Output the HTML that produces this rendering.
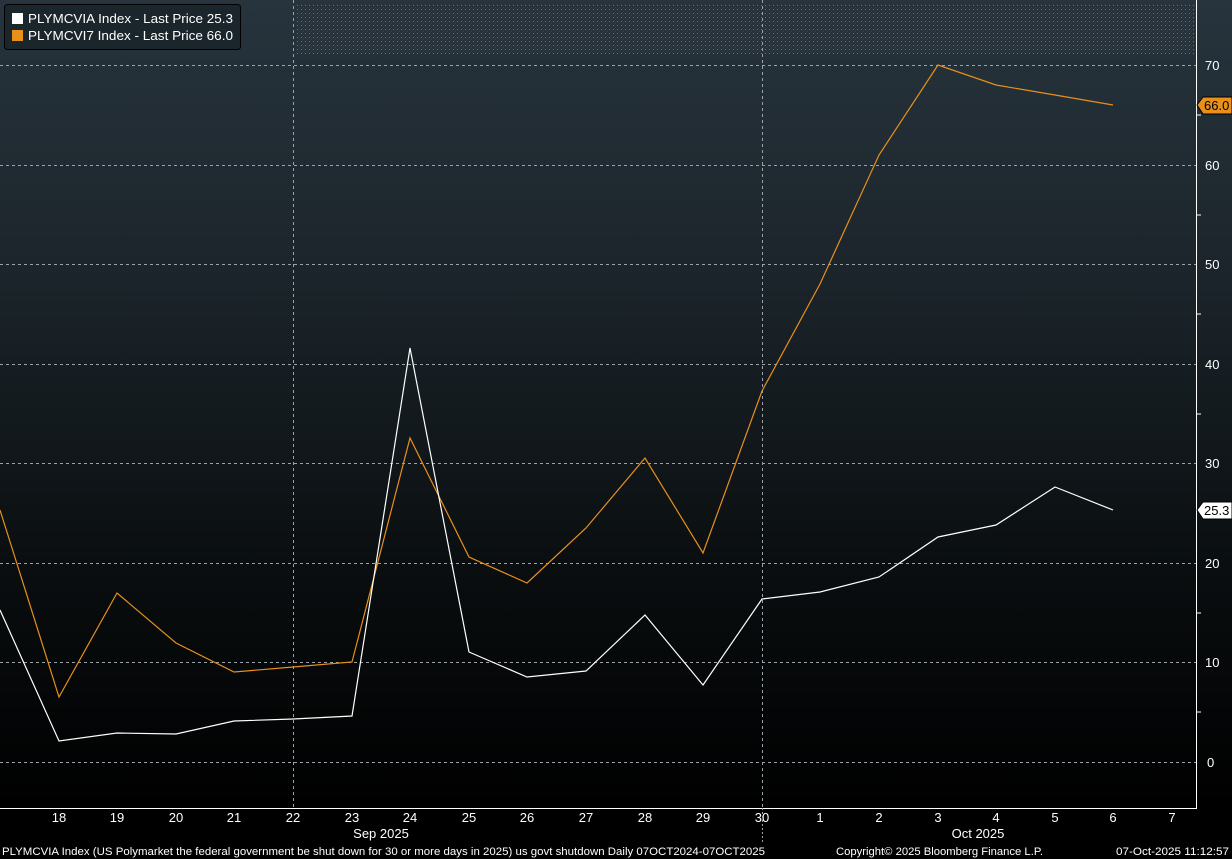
<!DOCTYPE html>
<html><head><meta charset="utf-8"><style>
body{margin:0;background:#000;}
svg{display:block;font-family:"Liberation Sans","DejaVu Sans",sans-serif;}
</style></head><body>
<svg width="1232" height="859" viewBox="0 0 1232 859" xmlns="http://www.w3.org/2000/svg">
<defs>
<linearGradient id="bg" x1="0" y1="0" x2="0" y2="1">
<stop offset="0" stop-color="#27343d"/>
<stop offset="0.35" stop-color="#1b242a"/>
<stop offset="0.7" stop-color="#0a0e10"/>
<stop offset="1" stop-color="#000"/>
</linearGradient>
<pattern id="dots" width="4" height="4" patternUnits="userSpaceOnUse">
<rect width="4" height="4" fill="#27323b"/>
<rect x="1" y="1" width="1" height="1" fill="#6a7582"/>
<rect x="3" y="3" width="1" height="1" fill="#2a3a90"/>
</pattern>
</defs>
<rect width="1232" height="808" fill="url(#bg)"/>
<rect x="0" y="808" width="1232" height="51" fill="#000"/>
<rect x="296" y="4" width="898" height="50" fill="url(#dots)"/>
<g stroke="#9aa3aa" stroke-width="1" stroke-dasharray="3,3">
<line x1="0" x2="1196" y1="65.5" y2="65.5"/>
<line x1="0" x2="1196" y1="165.5" y2="165.5"/>
<line x1="0" x2="1196" y1="264.5" y2="264.5"/>
<line x1="0" x2="1196" y1="364.5" y2="364.5"/>
<line x1="0" x2="1196" y1="463.5" y2="463.5"/>
<line x1="0" x2="1196" y1="563.5" y2="563.5"/>
<line x1="0" x2="1196" y1="662.5" y2="662.5"/>
<line x1="0" x2="1196" y1="762.5" y2="762.5"/>
<line x1="293.5" x2="293.5" y1="0" y2="808"/>
<line x1="762.5" x2="762.5" y1="0" y2="808"/>
</g>
<line x1="1196.5" x2="1196.5" y1="0" y2="808" stroke="#fff"/>
<line x1="0" x2="1197" y1="808.5" y2="808.5" stroke="#fff"/>
<g fill="#fff" font-size="13">
<text x="1205" y="70">70</text><text x="1205" y="170">60</text><text x="1205" y="269">50</text>
<text x="1205" y="369">40</text><text x="1205" y="468">30</text><text x="1205" y="568">20</text>
<text x="1205" y="667">10</text><text x="1207" y="767">0</text>
</g>
<g stroke="#fff"><line x1="1196" x2="1201" y1="115" y2="115"/><line x1="1196" x2="1201" y1="215" y2="215"/><line x1="1196" x2="1201" y1="314" y2="314"/><line x1="1196" x2="1201" y1="414" y2="414"/><line x1="1196" x2="1201" y1="613" y2="613"/><line x1="1196" x2="1201" y1="712" y2="712"/></g>
<polygon points="1197,105 1203,97 1232,97 1232,114 1203,114" fill="#e8901a" stroke="#000"/>
<text x="1204" y="110" font-size="13" fill="#000">66.0</text>
<polygon points="1197,510 1203,502 1232,502 1232,519 1203,519" fill="#fff" stroke="#000"/>
<text x="1204" y="515" font-size="13" fill="#000">25.3</text>
<polyline fill="none" stroke="#e8901a" stroke-width="1.2" points="0,510 59,697 117,593 176,643 234,672 293,667 352,662 410,438 469,557 527,583 586,528 645,458 703,553 762,391 820,284 879,155 938,65 996,85 1055,95 1113,105"/>
<polyline fill="none" stroke="#fff" stroke-width="1.2" points="0,610 59,741 117,733 176,734 234,721 293,719 352,716 410,348 469,652 527,677 586,671 645,615 703,685 762,599 820,592 879,577 938,537 996,525 1055,487 1113,510"/>
<g fill="#fff" font-size="13" text-anchor="middle">
<text x="59" y="822">18</text><text x="117" y="822">19</text><text x="176" y="822">20</text><text x="234" y="822">21</text>
<text x="293" y="822">22</text><text x="352" y="822">23</text><text x="410" y="822">24</text><text x="469" y="822">25</text>
<text x="527" y="822">26</text><text x="586" y="822">27</text><text x="645" y="822">28</text><text x="703" y="822">29</text>
<text x="762" y="822">30</text><text x="820" y="822">1</text><text x="879" y="822">2</text><text x="938" y="822">3</text>
<text x="996" y="822">4</text><text x="1055" y="822">5</text><text x="1113" y="822">6</text><text x="1172" y="822">7</text>
<text x="381" y="838">Sep 2025</text><text x="978" y="838">Oct 2025</text>
</g>
<line x1="762.5" x2="762.5" y1="808" y2="842" stroke="#9aa3aa" stroke-dasharray="2,2"/>
<g fill="#fff" font-size="11">
<text x="2" y="855" textLength="763" lengthAdjust="spacingAndGlyphs">PLYMCVIA Index (US Polymarket the federal government be shut down for 30 or more days in 2025) us govt shutdown Daily 07OCT2024-07OCT2025</text>
<text x="836" y="855" textLength="207" lengthAdjust="spacingAndGlyphs">Copyright© 2025 Bloomberg Finance L.P.</text>
<text x="1116" y="855" textLength="113" lengthAdjust="spacingAndGlyphs">07-Oct-2025 11:12:57</text>
</g>
<rect x="4.5" y="4.5" width="236" height="45" rx="3" fill="#1b252c" stroke="#000"/>
<rect x="12" y="13" width="11" height="11" fill="#fff"/>
<rect x="12" y="30" width="11" height="11" fill="#e8901a"/>
<g fill="#fff" font-size="13"><text x="28" y="23" textLength="205" lengthAdjust="spacingAndGlyphs">PLYMCVIA Index - Last Price 25.3</text><text x="28" y="40" textLength="205" lengthAdjust="spacingAndGlyphs">PLYMCVI7 Index - Last Price 66.0</text></g>
</svg>
</body></html>
